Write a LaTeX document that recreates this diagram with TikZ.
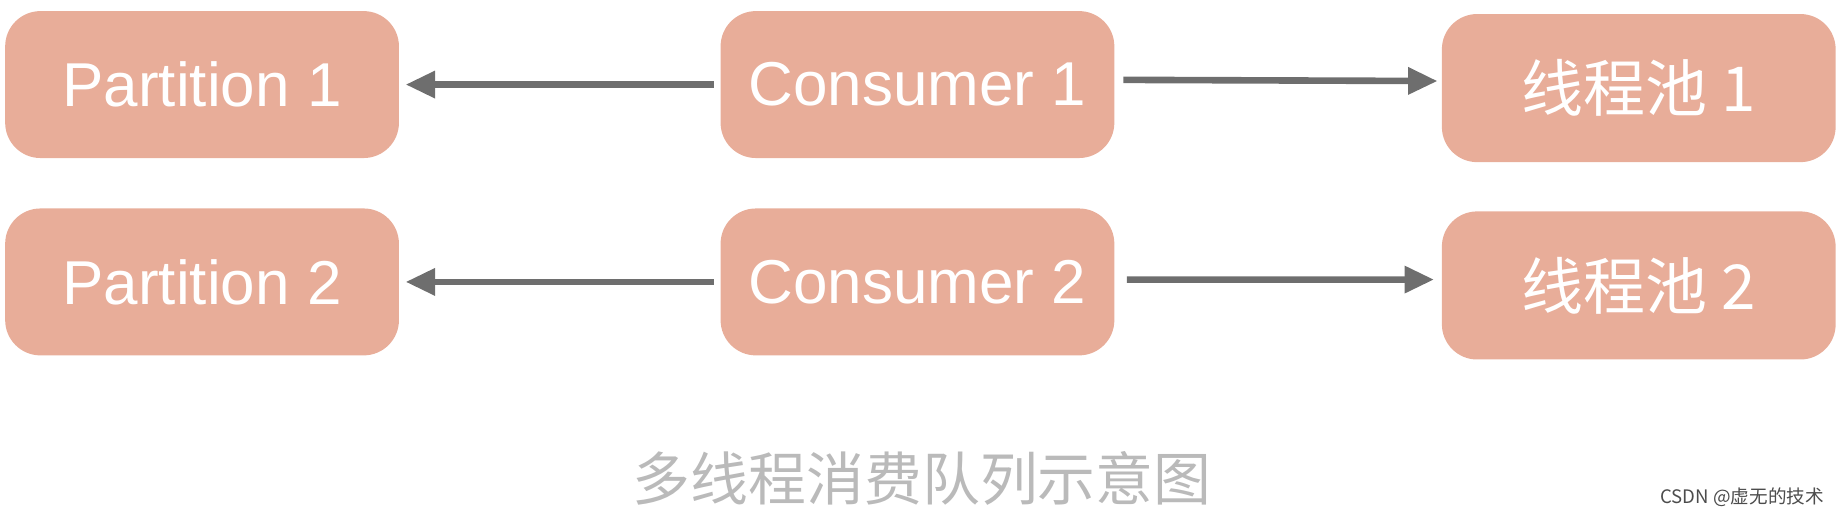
\documentclass[tikz,border=0pt]{standalone}
\usepackage{fontspec}
\setmainfont{Liberation Sans}
\newfontfamily\cjk{Noto Sans CJK SC}
\usetikzlibrary{arrows.meta}
\definecolor{boxc}{HTML}{E8AD99}
\definecolor{arr}{HTML}{6E6E6E}
\tikzset{
  box/.style={fill=boxc,draw=none,rounded corners=0.3cm,text=white,font=\fontsize{15}{18}\selectfont},
  conn/.style={draw=arr,line width=1.6pt,-{Triangle[length=0.25cm,width=0.22cm]}}
}
\begin{document}
\begin{tikzpicture}[x=0.01cm,y=-0.01cm]
\useasboundingbox (0,0) rectangle (1568,437.5);
\node[box,minimum width=3.35cm,minimum height=1.25cm] (p1) at (172,72) {Partition 1};
\node[box,minimum width=3.35cm,minimum height=1.25cm] (c1) at (781,72) {Consumer 1};
\node[box,minimum width=3.35cm,minimum height=1.26cm] (t1) at (1395,75) {\cjk 线程池 1};
\node[box,minimum width=3.35cm,minimum height=1.25cm] (p2) at (172,240) {Partition 2};
\node[box,minimum width=3.35cm,minimum height=1.25cm] (c2) at (781,240) {Consumer 2};
\node[box,minimum width=3.35cm,minimum height=1.26cm] (t2) at (1395,243) {\cjk 线程池 2};
\draw[conn] ([xshift=-0.05cm]c1.west) -- ([xshift=0.05cm]p1.east);
\draw[conn] ([xshift=0.07cm,yshift=0.04cm]c1.east) -- ([xshift=-0.03cm,yshift=0.06cm]t1.west);
\draw[conn] ([xshift=-0.05cm]c2.west) -- ([xshift=0.05cm]p2.east);
\draw[conn] ([xshift=0.1cm,yshift=0.02cm]c2.east) -- ([xshift=-0.06cm,yshift=0.05cm]t2.west);
\node[text=black!27,font=\cjk\fontsize{14}{16}\selectfont] (cap) at (785,407) {多线程消费队列示意图};
\node[text=black!70,font=\cjk\fontsize{4.5}{5}\selectfont] (wm) at (1483,423) {CSDN @虚无的技术};
\end{tikzpicture}
\end{document}
